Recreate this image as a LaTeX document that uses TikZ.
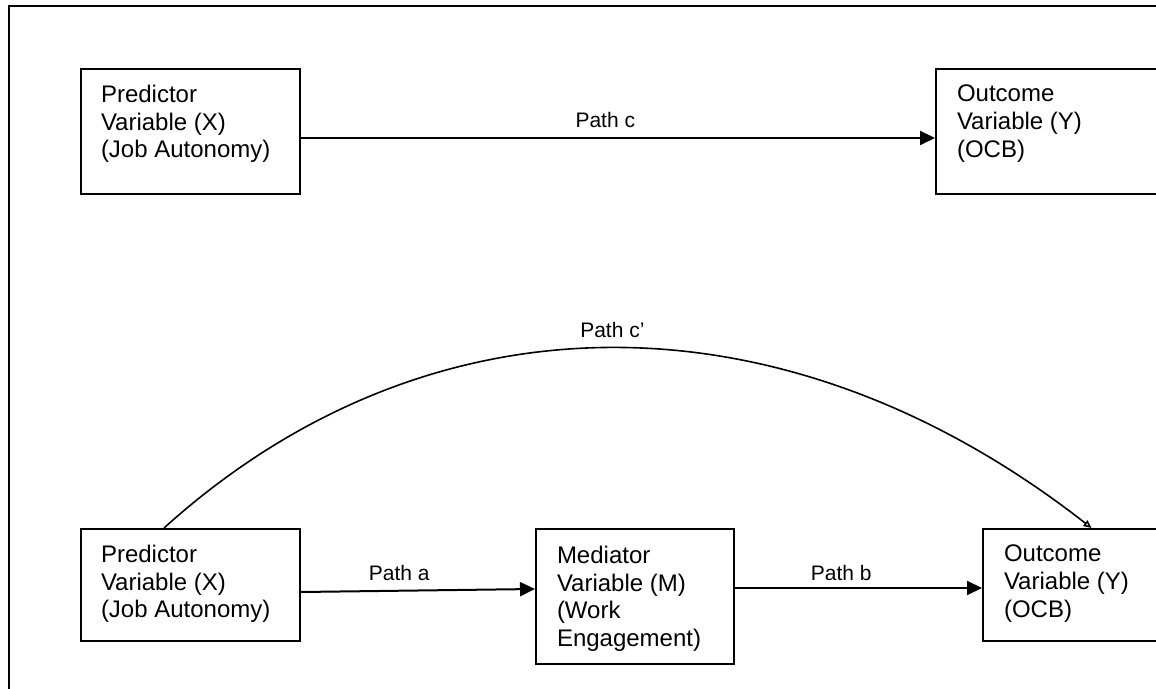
\documentclass[tikz,border=0pt]{standalone}
\usepackage{fontspec}
\setmainfont{Liberation Sans}
\usetikzlibrary{arrows.meta,positioning}

\begin{document}
\begin{tikzpicture}[x=0.5pt,y=-0.5pt,line width=1pt,>={Triangle[length=7.5pt,width=7pt]},
	box/.style={draw,minimum width=109.5pt,minimum height=56pt,inner sep=0pt},
	txt/.style={anchor=north west,align=left,inner sep=0pt,font=\fontsize{12}{13.85}\selectfont},
	lbl/.style={above=4.5pt,inner sep=0pt,font=\fontsize{10.5}{12}\selectfont}]
	\useasboundingbox (0,0) rectangle (1156,689);
	\clip (0,0) rectangle (1156,689);
	\draw (9,6) rectangle (1200,720);
	% total effect
	\node[box,minimum height=62.5pt] (px1) at (190.5,131.5) {};
	\node[box,minimum width=120pt,minimum height=62.5pt] (py1) at (1056,131.5) {};
	\node[txt] (px1t) at ([shift={(10pt,-8pt)}]px1.north west) {Predictor\\Variable (X)\\(Job Autonomy)};
	\node[txt] (py1t) at ([shift={(10.5pt,-8pt)}]py1.north west) {Outcome\\Variable (Y)\\(OCB)};
	\draw[->] ([yshift=-3.25pt]px1.east) -- node[lbl,pos=0.48] (lc) {Path c} ([yshift=-3.25pt]py1.west);
	% mediated effect
	\node[box] (px2) at (190.5,585) {};
	\node[box,minimum width=99pt,minimum height=67.5pt] (pm) at (635,596.5) {};
	\node[box,minimum width=108.5pt] (py2) at (1091.5,585) {};
	\node[txt] (px2t) at ([shift={(10pt,-8pt)}]px2.north west) {Predictor\\Variable (X)\\(Job Autonomy)};
	\node[txt] (pmt) at ([shift={(10.5pt,-8.5pt)}]pm.north west) {Mediator\\Variable (M)\\(Work\\Engagement)};
	\node[txt] (py2t) at ([shift={(10.5pt,-8pt)}]py2.north west) {Outcome\\Variable (Y)\\(OCB)};
	\draw[->] ([yshift=-3.5pt]px2.east) -- node[lbl,pos=0.42] (la) {Path a} ([yshift=3.75pt]pm.west);
	\draw[->] ([yshift=4.25pt]pm.east) -- node[lbl,pos=0.43,above=3pt] (lb) {Path b} ([yshift=-1.5pt]py2.west);
	\draw[-{Triangle[open,length=4pt,width=3.5pt]},line width=0.8pt] ([xshift=-13.25pt]px2.north)
		.. controls +(133pt,120pt) and +(-153.5pt,120pt) .. (py2.north) node[lbl,pos=0.5] (lcp) {Path c’};
	%\draw (px2.north) -- (py2.north);
\end{tikzpicture}
\end{document}
